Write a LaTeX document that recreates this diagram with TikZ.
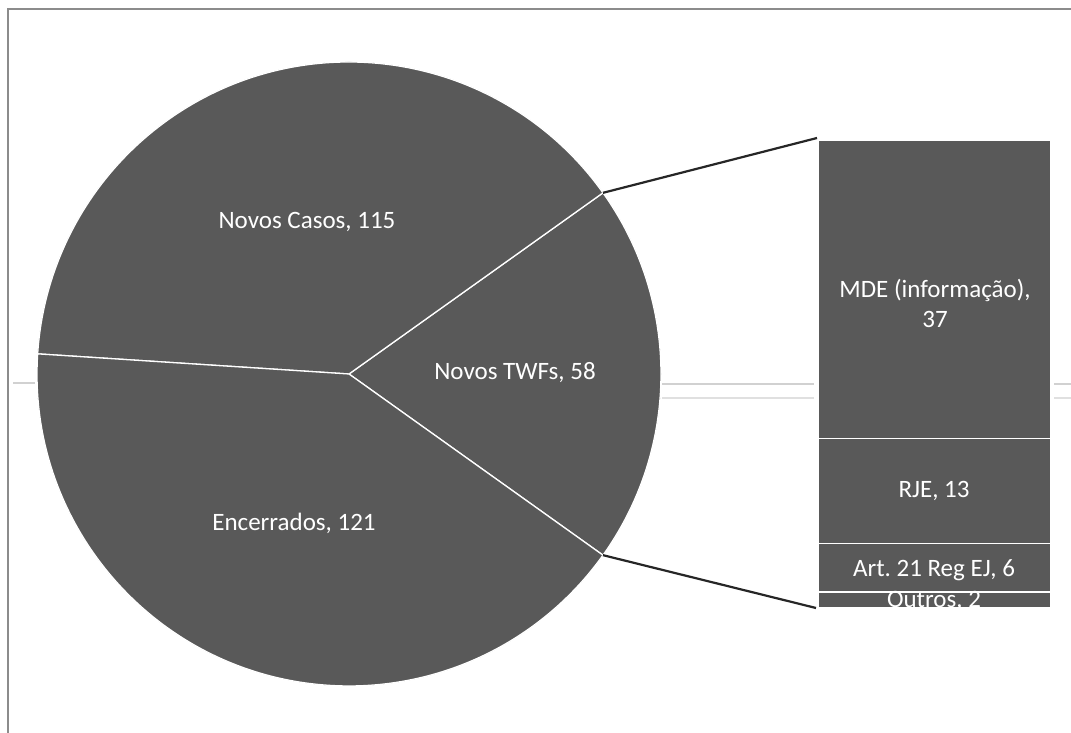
\documentclass[tikz,border=0pt]{standalone}
\usepackage{fontspec}
\setmainfont{Carlito}
\frenchspacing
\begin{document}
\begin{tikzpicture}[x=1pt,y=1pt,
  slice/.style={fill=pie,draw=white,line width=1.3pt,line join=round},
  seg/.style={fill=pie,draw=white,line width=1.3pt},
  lbl/.style={text=white,font=\fontsize{25}{30}\selectfont,inner sep=0pt,align=center},
  conn/.style={draw=black!85,line width=2.2pt},
  scan/.style={draw=black!18,line width=2pt}]
\definecolor{pie}{HTML}{595959}
\useasboundingbox (0,0) rectangle (1071,733);
% scan frame artefacts
\draw[draw=black!45,line width=1.5pt] (8,0) -- (8,724) -- (1071,724);
\draw[scan] (662,349) -- (814,349) (1054,349) -- (1071,349) (13,350) -- (35,350);
\draw[scan,draw=black!12] (662,335) -- (814,335) (1054,335) -- (1071,335);
% pie
\coordinate (c) at (349,359);
\fill[pie] (c) circle[radius=312pt];
\draw[slice] (c) -- ++(-35.5:312pt) coordinate (plo) arc[start angle=-35.5,end angle=35.5,radius=312pt] coordinate (phi) -- cycle;
\draw[slice] (c) -- ++(35.5:312pt) arc[start angle=35.5,end angle=176.3,radius=312pt] -- cycle;
\draw[slice] (c) -- ++(176.3:312pt) arc[start angle=176.3,end angle=324.5,radius=312pt] -- cycle;
\node[lbl] (casos) at (307,511) {Novos Casos, 115};
\node[lbl] (enc) at (294,210) {Encerrados, 121};
\node[lbl] (twf) at (515,360) {Novos TWFs, 58};
% bar
\draw[seg] (818,294.4) rectangle (1051,593);
\draw[seg] (818,189.5) rectangle (1051,294.4);
\draw[seg] (818,141) rectangle (1051,189.5);
\draw[seg] (818,125) rectangle (1051,141);
\coordinate (btop) at (817,595);
\coordinate (bbot) at (816,125);
\node[lbl] (mde) at (935,430) {MDE (informação),\\37};
\node[lbl] (rje) at (934,242) {RJE, 13};
\node[lbl] (art) at (934,163) {Art. 21 Reg EJ, 6};
\node[lbl,anchor=north] (out) at (934,142) {Outros, 2};
\fill[white] (810,124) rectangle (1060,100);
% connectors
\draw[conn] (phi) -- (btop);
\draw[conn] (plo) -- (bbot);
\end{tikzpicture}
\end{document}
